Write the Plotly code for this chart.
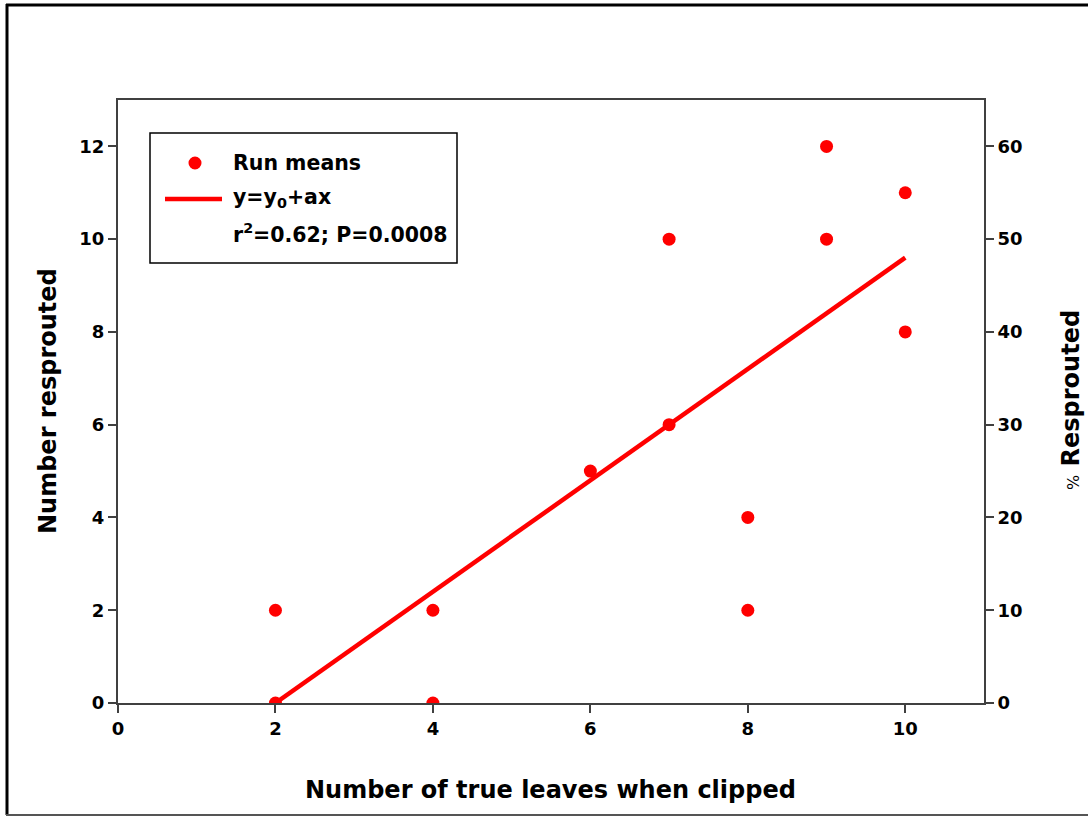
import plotly.graph_objects as go

# ---- data ----
leaves = [2, 2, 4, 4, 6, 7, 7, 8, 8, 9, 9, 10, 10]
resprouted = [2, 0, 2, 0, 5, 10, 6, 4, 2, 12, 10, 11, 8]
fit_x = [2, 10]
fit_y = [0.0, 9.6]
x_ticks = [0, 2, 4, 6, 8, 10]
y_ticks = [0, 2, 4, 6, 8, 10, 12]
y2_ticks = [0, 10, 20, 30, 40, 50, 60]

W, H = 1088, 817
L, R, T, B = 118, 104, 100, 114
pw, ph = W - L - R, H - T - B

def px(x):
    return (x - L) / pw

def py(y):
    return (H - B - y) / ph

FONT = "DejaVu Sans, Verdana, sans-serif"
AX = "#404040"
RED = "#ff0000"

fig = go.Figure()
fig.add_trace(go.Scatter(
    x=leaves, y=resprouted, mode="markers", name="Run means",
    marker=dict(color=RED, size=13, line=dict(width=0)), showlegend=False,
))
fig.add_trace(go.Scatter(
    x=fit_x, y=fit_y, mode="lines", name="y=y0+ax",
    line=dict(color=RED, width=4.5), showlegend=False,
))
fig.add_trace(go.Scatter(x=[0], y=[0], yaxis="y2", mode="markers",
                         marker=dict(opacity=0), showlegend=False, hoverinfo="skip"))

tickfont = dict(family=FONT, size=18, color="#000000", weight="bold")

fig.update_layout(
    width=W, height=H,
    margin=dict(l=L, r=R, t=T, b=B, pad=0),
    paper_bgcolor="white", plot_bgcolor="white",
    showlegend=False,
    xaxis=dict(
        range=[0, 11], tickvals=x_ticks, showgrid=False, zeroline=False,
        showline=True, linecolor=AX, linewidth=2, mirror=True,
        ticks="outside", ticklen=8, tickwidth=2, tickcolor=AX,
        tickfont=tickfont,
    ),
    yaxis=dict(
        range=[0, 13], tickvals=y_ticks, showgrid=False, zeroline=False,
        showline=True, linecolor=AX, linewidth=2,
        ticks="outside", ticklen=8, tickwidth=2, tickcolor=AX,
        tickfont=tickfont,
    ),
    yaxis2=dict(
        range=[0, 65], tickvals=y2_ticks, overlaying="y", side="right",
        showgrid=False, zeroline=False,
        showline=True, linecolor=AX, linewidth=2,
        ticks="outside", ticklen=8, tickwidth=2, tickcolor=AX,
        tickfont=tickfont,
    ),
)

title_font = dict(family=FONT, size=24, color="#000000", weight="bold")
fig.add_annotation(text="Number of true leaves when clipped", xref="paper", yref="paper",
                   x=px(550), y=py(790), showarrow=False, font=title_font,
                   xanchor="center", yanchor="middle")
fig.add_annotation(text="Number resprouted", xref="paper", yref="paper",
                   x=px(48), y=py(401), showarrow=False, font=title_font, textangle=-90,
                   xanchor="center", yanchor="middle")
fig.add_annotation(text="<span style='font-weight:normal;font-size:16px'>%</span> Resprouted",
                   xref="paper", yref="paper",
                   x=px(1071), y=py(400), showarrow=False, font=title_font, textangle=-90,
                   xanchor="center", yanchor="middle")

# legend (drawn manually)
leg_font = dict(family=FONT, size=20.5, color="#000000", weight="bold")
fig.add_shape(type="rect", xref="paper", yref="paper",
              x0=px(150), x1=px(457), y0=py(133), y1=py(263),
              line=dict(color="#000000", width=1.5), fillcolor="white", layer="above")
fig.add_shape(type="circle", xref="paper", yref="paper",
              x0=px(188.5), x1=px(201.5), y0=py(156.5), y1=py(169.5),
              line=dict(width=0), fillcolor=RED, layer="above")
fig.add_shape(type="line", xref="paper", yref="paper",
              x0=px(165), x1=px(222), y0=py(199), y1=py(199),
              line=dict(color=RED, width=4.5), layer="above")
for txt, yy in [("Run means", 163), ("y=y<sub>0</sub>+ax", 198),
                ("r<sup>2</sup>=0.62; P=0.0008", 233)]:
    fig.add_annotation(text=txt, xref="paper", yref="paper", x=px(231), y=py(yy),
                       showarrow=False, font=leg_font, xanchor="left", yanchor="middle")

# outer frame
fig.add_shape(type="line", xref="paper", yref="paper", x0=px(6), x1=px(1088), y0=py(5), y1=py(5),
              line=dict(color="#000000", width=3))
fig.add_shape(type="line", xref="paper", yref="paper", x0=px(7), x1=px(7), y0=py(4), y1=py(815),
              line=dict(color="#000000", width=3))
fig.add_shape(type="line", xref="paper", yref="paper", x0=px(6), x1=px(1088), y0=py(815), y1=py(815),
              line=dict(color="#555555", width=2))

fig.write_html("out.html")
